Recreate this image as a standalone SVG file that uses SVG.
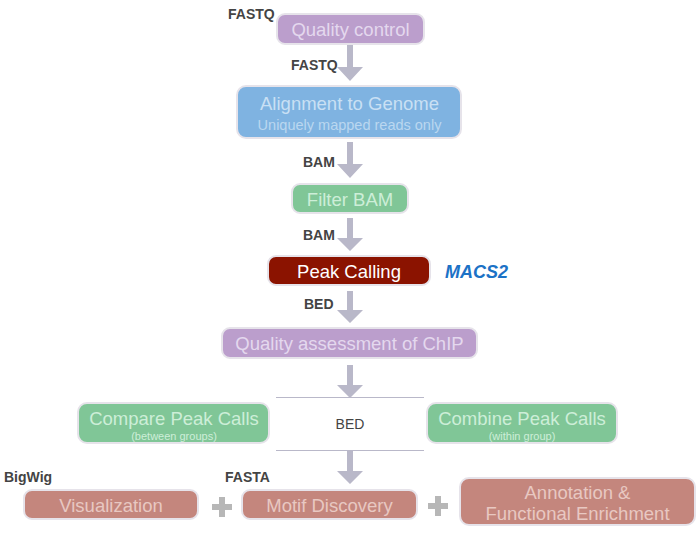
<svg xmlns="http://www.w3.org/2000/svg" width="700" height="533" viewBox="0 0 700 533">
<defs>
<style>
.box{stroke:#e6e3ea;stroke-width:2}
.pur{fill:#bb9ecc}
.blu{fill:#7fb3e1}
.grn{fill:#80c697}
.red{fill:#8b1300}
.sal{fill:#c4867d}
.t{font-family:"Liberation Sans",Arial,sans-serif;text-anchor:middle}
.m{font-size:18.5px}
.tp{fill:#e4d8ee}
.tb{fill:#c9e0f4}
.tg{fill:#cdeed8}
.ts{fill:#e8c8c2}
.lab{font-family:"Liberation Sans",Arial,sans-serif;font-size:14px;fill:#444;font-weight:bold}
.arr{fill:#b9b8c9}
.plus{fill:#b7b7b7}
</style>
</defs>
<g id="connectors">
<path class="arr" d="M347,45 h6 v22 h10 l-13,14 l-13,-14 h10 z"/>
<path class="arr" d="M347,142 h6 v22 h10 l-13,14 l-13,-14 h10 z"/>
<path class="arr" d="M347,218 h6 v20 h10 l-13,13 l-13,-13 h10 z"/>
<path class="arr" d="M347,291 h6 v19 h10 l-13,13 l-13,-13 h10 z"/>
<path class="arr" d="M347,365 h6 v20 h10 l-13,13 l-13,-13 h10 z"/>
<path class="arr" d="M347,451 h6 v20 h10 l-13,13 l-13,-13 h10 z"/>
<line x1="276" y1="397.5" x2="424" y2="397.5" stroke="#b9b8c9" stroke-width="1"/>
<line x1="276" y1="450.5" x2="424" y2="450.5" stroke="#b9b8c9" stroke-width="1"/>
<text class="lab" x="228" y="19">FASTQ</text>
<text class="lab" x="291" y="70">FASTQ</text>
<text class="lab" x="303" y="167">BAM</text>
<text class="lab" x="303" y="240">BAM</text>
<text class="lab" x="304" y="309">BED</text>
<text class="t" x="350" y="429" font-size="14" fill="#444">BED</text>
<text class="lab" x="4" y="482" font-weight="normal" font-size="14.5">BigWig</text>
<text class="lab" x="225" y="482" font-weight="normal" font-size="15">FASTA</text>
<path class="plus" d="M219,497 h6 v7 h7 v6 h-7 v7 h-6 v-7 h-7 v-6 h7 z"/>
<path class="plus" d="M435,496 h6 v7 h7 v6 h-7 v7 h-6 v-7 h-7 v-6 h7 z"/>
</g>
<g id="qc">
<rect class="box pur" x="277" y="14" width="147" height="30" rx="8"/>
<text class="t tp m" x="350.5" y="36">Quality control</text>
</g>
<g id="align">
<rect class="box blu" x="237" y="86" width="224" height="52" rx="9"/>
<text class="t tb m" x="349.5" y="110">Alignment to Genome</text>
<text class="t tb" x="349.5" y="129.5" font-size="14.5" opacity="0.8">Uniquely mapped reads only</text>
</g>
<g id="filter">
<rect class="box grn" x="292" y="184" width="116" height="29" rx="8"/>
<text class="t tg m" x="350" y="205.5">Filter BAM</text>
</g>
<g id="peak">
<rect class="box red" x="268" y="256" width="162" height="29" rx="8"/>
<text class="t m" x="349" y="277.5" fill="#fff">Peak Calling</text>
<text x="445" y="277.5" font-family="Liberation Sans,Arial,sans-serif" font-size="18" font-weight="bold" font-style="italic" fill="#1c72c6">MACS2</text>
</g>
<g id="qa">
<rect class="box pur" x="222" y="328" width="255" height="30" rx="8"/>
<text class="t tp m" x="349.5" y="350">Quality assessment of ChIP</text>
</g>
<g id="compare">
<rect class="box grn" x="78" y="403" width="191" height="40" rx="9"/>
<text class="t tg m" x="174" y="424.5">Compare Peak Calls</text>
<text class="t tg" x="174" y="439.5" font-size="11">(between groups)</text>
</g>
<g id="combine">
<rect class="box grn" x="427" y="403" width="190" height="40" rx="9"/>
<text class="t tg m" x="522" y="424.5">Combine Peak Calls</text>
<text class="t tg" x="522" y="439.5" font-size="11">(within group)</text>
</g>
<g id="vis">
<rect class="box sal" x="24" y="490" width="174" height="29" rx="8"/>
<text class="t ts m" x="111" y="511.5">Visualization</text>
</g>
<g id="motif">
<rect class="box sal" x="242" y="490" width="175" height="29" rx="8"/>
<text class="t ts m" x="329.5" y="511.5">Motif Discovery</text>
</g>
<g id="annot">
<rect class="box sal" x="460" y="478" width="235" height="47" rx="9"/>
<text class="t ts m" x="577.5" y="499">Annotation &amp;</text>
<text class="t ts m" x="577.5" y="520">Functional Enrichment</text>
</g>
</svg>
